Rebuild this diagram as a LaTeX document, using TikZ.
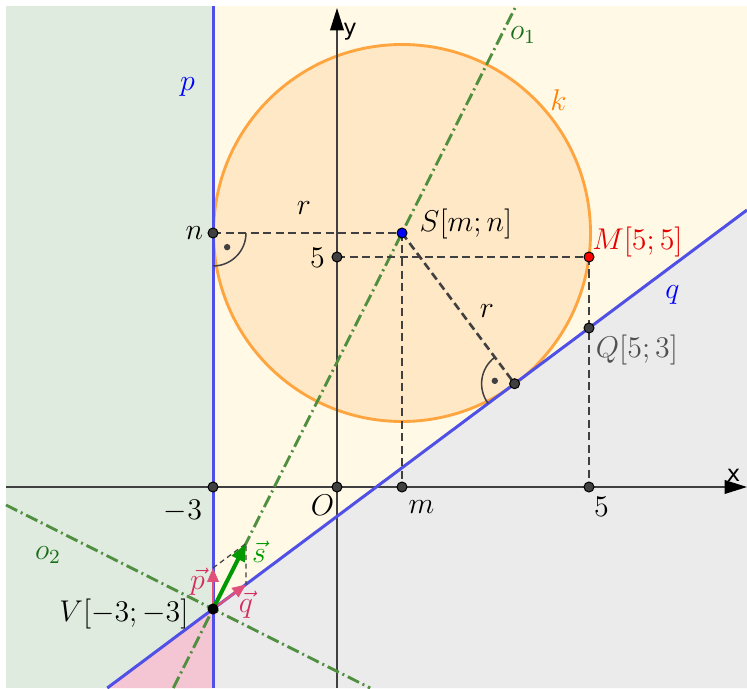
\documentclass[tikz,border=0pt]{standalone}
\usepackage{fontspec}
\newfontfamily\axfont{DejaVu Sans}
\usetikzlibrary{arrows.meta}
\definecolor{bggreen}{HTML}{DFEBDF}
\definecolor{bgyellow}{HTML}{FFF9E6}
\definecolor{bggray}{HTML}{EBEBEB}
\definecolor{bgpink}{HTML}{F4C5D3}
\definecolor{circfill}{HTML}{FFE8C6}
\definecolor{circline}{HTML}{FFA540}
\definecolor{lineblue}{HTML}{5050E6}
\definecolor{dashgreen}{HTML}{4F8F3F}
\definecolor{lblgreen}{HTML}{1A6E1A}
\definecolor{crimson}{HTML}{D62D5E}
\definecolor{vecred}{HTML}{E0507A}
\definecolor{dgray}{HTML}{404040}
\definecolor{korange}{HTML}{FF8000}
\definecolor{vecgreen}{HTML}{009900}
\definecolor{mred}{HTML}{E60000}
\definecolor{qgray}{HTML}{505050}
\begin{document}
\begin{tikzpicture}[x=0.4pt,y=0.4pt,font=\large,
  pt/.style={circle,draw=black,line width=0.4pt,inner sep=0pt,minimum size=4pt,fill=#1},
  pt/.default=dgray,
  lbl/.style={inner sep=0pt},
  dsh/.style={dgray,line width=1.05pt,dash pattern=on 3.2pt off 1.8pt},
  dashdot/.style={dashgreen,line width=1.15pt,dash pattern=on 5pt off 1.6pt on 0.8pt off 1.6pt},
  bline/.style={lineblue,line width=1.2pt},
  axisline/.style={dgray,line width=0.6pt,-{Triangle[length=9pt,width=5.5pt,color=black]}},
  amark/.style={draw=dgray,line width=0.6pt},
  vecarrow/.style={vecred,line width=0.9pt,-{Triangle[length=5.5pt,width=4.5pt]}},
  thindash/.style={dgray,line width=0.5pt,dash pattern=on 2pt off 1.5pt}]
\useasboundingbox (0,0) rectangle (747,688);
% coordinates
\coordinate (pTop) at (213,682);
\coordinate (pBot) at (213,0);
\coordinate (V) at (213,79);
\coordinate (qL) at (107.3,0);
\coordinate (qR) at (747,478);
\coordinate (o1T) at (516,682);
\coordinate (o1B) at (173.3,0);
\coordinate (o2L) at (6,183);
\coordinate (o2B) at (370.2,0);
\coordinate (S) at (402,455);
\coordinate (M) at (589,431);
\coordinate (Q) at (589,360);
\coordinate (T) at (514.6,304.3);
\coordinate (n) at (213,455);
\coordinate (y5) at (337,431);
\coordinate (xm3) at (213,201);
\coordinate (O) at (337,201);
\coordinate (xm) at (402,201);
\coordinate (x5) at (589,201);
\coordinate (xL) at (6,201);
\coordinate (xR) at (747,201);
\coordinate (yB) at (337,0);
\coordinate (yT) at (337,680);
\coordinate (ptip) at (213,120);
\coordinate (qtip) at (246,103.5);
\coordinate (stip) at (246,144.5);
% regions
\fill[bggreen] (6,0) rectangle (213,682);
\fill[bgpink] (V) -- (qL) -- (pBot) -- cycle;
\fill[bggray] (V) -- (qR) -- (747,0) -- (pBot) -- cycle;
\fill[bgyellow] (V) -- (qR) -- (747,682) -- (pTop) -- cycle;
% circle k
\draw[circline,fill=circfill,line width=1.15pt] (S) circle[radius=188.5];
% axes
\draw[axisline] (xL) -- (xR);
\draw[axisline] (yB) -- (yT);
\node[lbl,font=\axfont\fontsize{9}{10}\selectfont] at (733.5,213) {x};
\node[lbl,font=\axfont\fontsize{9}{10}\selectfont] at (350,656) {y};
% lines
\draw[bline] (pBot) -- (pTop);
\draw[bline] (qL) -- (qR);
\draw[dashdot] (o1B) -- (o1T);
\draw[dashdot] (o2L) -- (o2B);
% dashed
\draw[dsh] (n) -- (S);
\draw[dsh] (y5) -- (M);
\draw[dsh] (S) -- (xm);
\draw[dsh] (M) -- (x5);
\draw[dsh] (S) -- (T);
% right angle marks
\draw[amark] (n) ++(0:33) arc[start angle=0,end angle=-90,radius=33];
\fill[dgray] (n) ++(-45:20) circle[radius=3.2];
\draw[amark] (T) ++(126.8:33) arc[start angle=126.8,end angle=216.8,radius=33];
\fill[dgray] (T) ++(171.8:20) circle[radius=3.2];
% vectors
\draw[thindash] (ptip) -- (stip) -- (qtip);
\draw[vecarrow] (V) -- (ptip);
\draw[vecarrow] (V) -- (qtip);
\draw[vecgreen,line width=1.6pt,-{Triangle[length=7pt,width=5.5pt]}] (V) -- (stip);
% points
\node[pt] (nP) at (n) {};
\node[pt] (y5P) at (y5) {};
\node[pt=blue] (SP) at (S) {};
\node[pt=red] (MP) at (M) {};
\node[pt] (QP) at (Q) {};
\node[pt] (TP) at (T) {};
\node[pt] (xm3P) at (xm3) {};
\node[pt] (OP) at (O) {};
\node[pt] (xmP) at (xm) {};
\node[pt] (x5P) at (x5) {};
\node[pt=black] (VP) at (V) {};
% labels
\node[lbl,text=blue] (pL) at (187.5,601) {$p$};
\node[lbl,text=blue] (qLb) at (672.5,393) {$q$};
\node[lbl,text=korange] (kL) at (558.5,588) {$k$};
\node[lbl,text=lblgreen] (o1L) at (523,653) {$o_1$};
\node[lbl,text=lblgreen] (o2L2) at (48,133) {$o_2$};
\node[lbl] (r1) at (304,480) {$r$};
\node[lbl] (r2) at (487,377) {$r$};
\node[lbl] (SL) at (466,464) {$S[m;n]$};
\node[lbl,text=mred] (ML) at (637.5,445.5) {$M[5;5]$};
\node[lbl,text=qgray] (QL) at (637,338) {$Q[5;3]$};
\node[lbl] (nL) at (194.5,455) {$n$};
\node[lbl] (y5L) at (317.5,430) {$5$};
\node[lbl] (xm3L) at (183,176.5) {$-3$};
\node[lbl] (OL) at (322.5,183) {$O$};
\node[lbl] (mL) at (421.5,180.5) {$m$};
\node[lbl] (x5L) at (601.5,181.5) {$5$};
\node[lbl] (VL) at (124,74) {$V[-3;-3]$};
\node[lbl,text=crimson] (pvL) at (197.5,106) {$\vec{p}$};
\node[lbl,text=crimson] (qvL) at (246,83) {$\vec{q}$};
\node[lbl,text=vecgreen] (svL) at (259,136) {$\vec{s}$};
\end{tikzpicture}
\end{document}
